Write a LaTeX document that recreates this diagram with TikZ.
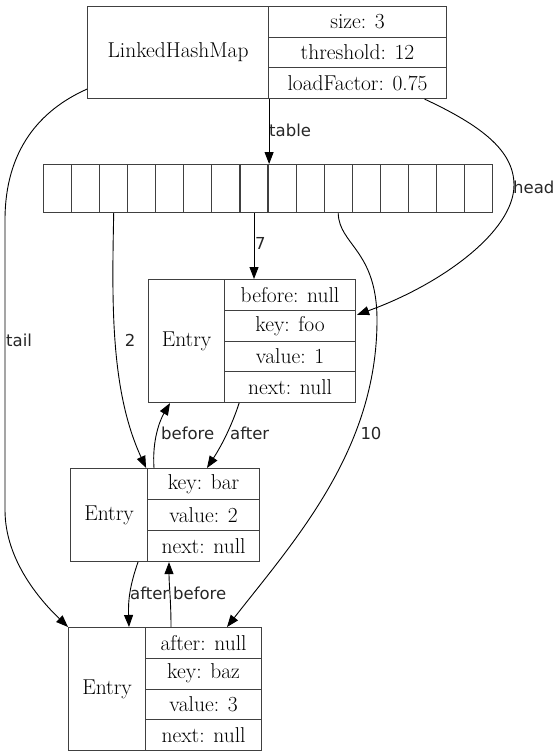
\documentclass[tikz,border=0pt]{standalone}
\usepackage{fontspec}
\newfontfamily\lblfont{DejaVu Sans}
\usetikzlibrary{arrows.meta,calc}
\begin{document}
\begin{tikzpicture}[x=1pt,y=-1pt,
  rec/.style={draw=black!75, line width=1.1pt, inner sep=0pt, font=\fontsize{21.5}{24}\selectfont, anchor=north west},
  lbl/.style={font=\lblfont\fontsize{16.5}{18}\selectfont, inner sep=0pt, text=black!85},
  edge/.style={line width=0.9pt, -{Triangle[length=12pt,width=9pt]}}]
\useasboundingbox (0,0) rectangle (560,756);
% LinkedHashMap
\node[rec, minimum width=181pt, minimum height=92pt] (lhm) at (87,6) {LinkedHashMap};
\node[rec, minimum width=178pt, minimum height=30.67pt] (sz) at (268,6) {size: 3};
\node[rec, minimum width=178pt, minimum height=30.67pt] (th) at (268,36.67) {threshold: 12};
\node[rec, minimum width=178pt, minimum height=30.67pt] (lf) at (268,67.33) {loadFactor: 0.75};
% table
\foreach \i in {0,...,15}
  \node[rec, minimum width=28.06pt, minimum height=48pt] (a\i) at ({43+28.0625*\i},164) {};
% Entry foo
\node[rec, minimum width=76pt, minimum height=123pt] (fl) at (148,279) {Entry};
\node[rec, minimum width=131pt, minimum height=30.75pt] (fb) at (224,279) {before: null};
\node[rec, minimum width=131pt, minimum height=30.75pt] (fk) at (224,309.75) {key: foo};
\node[rec, minimum width=131pt, minimum height=30.75pt] (fv) at (224,340.5) {value: 1};
\node[rec, minimum width=131pt, minimum height=30.75pt] (fn) at (224,371.25) {next: null};
% Entry bar
\node[rec, minimum width=77pt, minimum height=93pt] (bl) at (70,468) {Entry};
\node[rec, minimum width=112pt, minimum height=31pt] (bk) at (147,468) {key: bar};
\node[rec, minimum width=112pt, minimum height=31pt] (bv) at (147,499) {value: 2};
\node[rec, minimum width=112pt, minimum height=31pt] (bn) at (147,530) {next: null};
% Entry baz
\node[rec, minimum width=77pt, minimum height=123pt] (zl) at (68,627) {Entry};
\node[rec, minimum width=116pt, minimum height=30.75pt] (za) at (145,627) {after: null};
\node[rec, minimum width=116pt, minimum height=30.75pt] (zk) at (145,657.75) {key: baz};
\node[rec, minimum width=116pt, minimum height=30.75pt] (zv) at (145,688.5) {value: 3};
\node[rec, minimum width=116pt, minimum height=30.75pt] (zn) at (145,719.25) {next: null};
% labels
\node[lbl, anchor=west] (ltable) at (269,130) {table};
\node[lbl, anchor=west] (lhead) at (513,187) {head};
\node[lbl, anchor=west] (ltail) at (6,340) {tail};
\node[lbl] (ltwo) at (130,340) {2};
\node[lbl, anchor=west] (lseven) at (255,243) {7};
\node[lbl] (lten) at (371,433) {10};
\node[lbl, anchor=west] (lbef1) at (161,433) {before};
\node[lbl, anchor=west] (laft1) at (230,433) {after};
\node[lbl, anchor=west] (laft2) at (130,593) {after};
\node[lbl, anchor=west] (lbef2) at (173,593) {before};
% edges
\draw[edge] (lhm.south east) -- (lhm.south east |- a8.north);
\draw[edge] ($(lf.south east)+(-22.5,0)$) .. controls (480,125) and (514,150) .. (514,185)
  .. controls (514,232) and (440,285) .. ($(fk.north east)+(1,5)$);
\draw[edge] ($(lhm.south west)+(0,-10)$) .. controls (40,110) and (5,150) .. (5,220)
  -- (5,510) .. controls (5,560) and (40,600) .. (zl.north west);
\draw[edge] (a2.south) .. controls (112,300) and (110,390) .. ($(bl.north east)+(-2,0)$);
\draw[edge] (a7.south) -- (a7.south |- fb.north);
\draw[edge] (a10.south) .. controls (339,245) and (377,250) .. (377,320)
  .. controls (377,450) and (295,540) .. ($(za.north west)+(82,0)$);
\draw[edge] ($(bk.north west)+(7,0)$) .. controls (152,440) and (160,420) .. ($(fl.south west)+(22,0)$);
\draw[edge] ($(fl.south east)+(14,0)$) .. controls (232,425) and (222,445) .. ($(bk.north west)+(60,0)$);
\draw[edge] ($(bl.south west)+(68,0)$) .. controls (130,585) and (128,600) .. ($(zl.north west)+(61,0)$);
\draw[edge] ($(za.north west)+(26,0)$) .. controls (171,600) and (169,585) .. ($(bn.south west)+(22,0)$);
\end{tikzpicture}
\end{document}
